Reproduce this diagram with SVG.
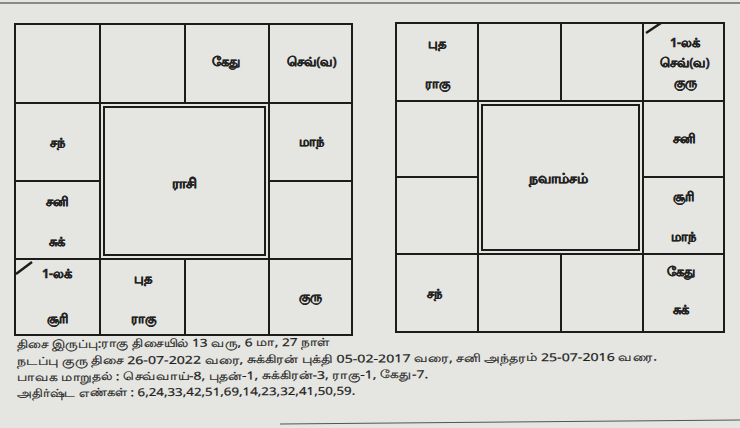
<svg xmlns="http://www.w3.org/2000/svg" width="740" height="428" viewBox="0 0 740 428">
<style>
.g{fill:none;stroke:#1c1c1c;stroke-width:2}
.t{font-family:"Noto Sans","DejaVu Sans",sans-serif;font-size:12.5px;font-weight:bold;fill:#222;stroke:#222;stroke-width:0.35;text-anchor:middle}
.c{font-size:14px}
.b{font-family:"Noto Sans","DejaVu Sans",sans-serif;font-size:11px;fill:#1e1e1e;stroke:#1e1e1e;stroke-width:0.2}
</style>
<rect width="740" height="428" fill="#e5e5e1"/>
<line x1="0" y1="3" x2="740" y2="3" stroke="#6a6a6a" stroke-width="1.5"/>
<line x1="280" y1="424" x2="740" y2="420" stroke="#555" stroke-width="1.2"/>

<g id="connectors">
<!-- Rasi chart grid -->
<rect class="g" x="15" y="24" width="337" height="311"/>
<path class="g" d="M15 103H352M15 259H352M100 24V335M269 24V335M185 24V103M185 259V335M15 181H100M269 181H352"/>
<rect class="g" x="104" y="107" width="161" height="148"/>
<line x1="16" y1="274" x2="32" y2="262" stroke="#1c1c1c" stroke-width="2.5"/>
<!-- Navamsa chart grid -->
<rect class="g" x="396" y="23" width="328" height="309"/>
<path class="g" d="M396 101H724M396 254H724M478 23V332M643 23V332M561 23V101M561 254V332M396 177H478M643 177H724"/>
<rect class="g" x="482" y="105" width="157" height="145"/>
<line x1="646" y1="33" x2="661" y2="23" stroke="#1c1c1c" stroke-width="2.5"/>
</g>

<g id="rasi">
<g id="r-title"><text class="t c" x="184" y="188">ராசி</text></g>
<g id="r-c2"><text class="t" x="226" y="66">கேது</text></g>
<g id="r-c3"><text class="t" x="312" y="66">செவ்(வ)</text></g>
<g id="r-r1c0"><text class="t" x="57" y="147">சந்</text></g>
<g id="r-r1c3"><text class="t" x="311" y="146">மாந்</text></g>
<g id="r-r2c0"><text class="t" x="57" y="206">சனி</text><text class="t" x="57" y="246">சுக்</text></g>
<g id="r-r3c0"><text class="t" x="57" y="278">1-லக்</text><text class="t" x="57" y="323">சூரி</text></g>
<g id="r-r3c1"><text class="t" x="143" y="283">புத</text><text class="t" x="143" y="323">ராகு</text></g>
<g id="r-r3c3"><text class="t" x="310" y="301">குரு</text></g>
</g>

<g id="navamsa">
<g id="n-title"><text class="t c" x="558" y="183">நவாம்சம்</text></g>
<g id="n-r0c0"><text class="t" x="437" y="48">புத</text><text class="t" x="437" y="88">ராகு</text></g>
<g id="n-r0c3"><text class="t" x="685" y="47">1-லக்</text><text class="t" x="685" y="67">செவ்(வ)</text><text class="t" x="685" y="87">குரு</text></g>
<g id="n-r1c3"><text class="t" x="684" y="143">சனி</text></g>
<g id="n-r2c3"><text class="t" x="683" y="201">சூரி</text><text class="t" x="683" y="241">மாந்</text></g>
<g id="n-r3c0"><text class="t" x="434" y="298">சந்</text></g>
<g id="n-r3c3"><text class="t" x="681" y="276">கேது</text><text class="t" x="681" y="314">சுக்</text></g>
</g>

<g id="notes" transform="rotate(-0.4 17 360)">
<text class="b" x="17" y="348" textLength="313" lengthAdjust="spacingAndGlyphs">திசை இருப்பு:ராகு திசையில் 13 வரு, 6 மா, 27 நாள்</text>
<text class="b" x="17" y="365" textLength="640" lengthAdjust="spacingAndGlyphs">நடப்பு குரு திசை 26-07-2022 வரை, சுக்கிரன் புக்தி 05-02-2017 வரை, சனி அந்தரம் 25-07-2016 வரை.</text>
<text class="b" x="17" y="381" textLength="411" lengthAdjust="spacingAndGlyphs">பாவக மாறுதல் : செவ்வாய்-8, புதன்-1, சுக்கிரன்-3, ராகு-1, கேது-7.</text>
<text class="b" x="17" y="397" textLength="338" lengthAdjust="spacingAndGlyphs">அதிர்ஷ்ட எண்கள் : 6,24,33,42,51,69,14,23,32,41,50,59.</text>
</g>
</svg>
